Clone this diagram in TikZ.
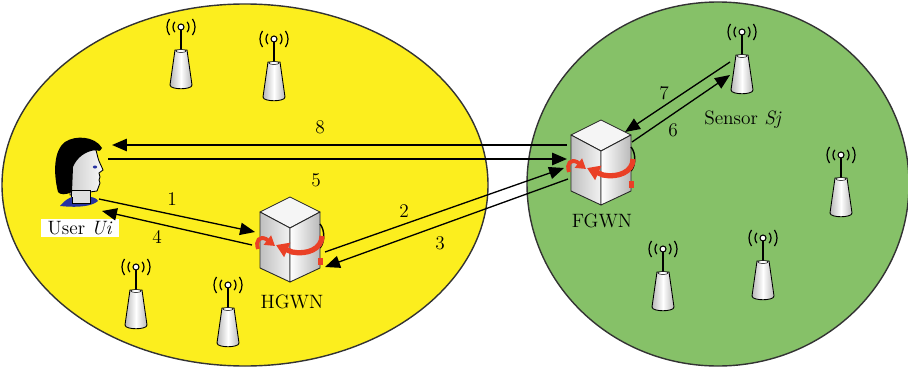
\documentclass[tikz,border=0pt]{standalone}
\usetikzlibrary{arrows.meta}
\definecolor{zoneyellow}{RGB}{252,238,30}
\definecolor{zonegreen}{RGB}{134,193,104}
\definecolor{ringred}{RGB}{234,64,38}
\definecolor{collarblue}{RGB}{38,50,160}
\tikzset{
  sensor/.pic={
    \draw[line width=1.1pt] (0,0) -- (0,23);
    \draw[line width=0.5pt, left color=gray!55, right color=gray!55, middle color=white]
      (-6,23) -- (6,23) -- (11,58) .. controls (11,63) and (-11,63) .. (-11,58) -- cycle;
    \draw[line width=0.3pt, fill=white] (0,24) ellipse [x radius=5, y radius=1.5];
    \draw[line width=0.6pt, fill=white] (0,0) circle (3);
    \draw[line width=0.7pt] (140:8) arc (140:220:8) (-40:8) arc (-40:40:8);
    \draw[line width=0.7pt] (145:14) arc (145:215:14) (-35:14) arc (-35:35:14);
  },
  server/.pic={
    \draw[edge, fill=gray!8] (0,-43) -- (30,-28) -- (0,-12) -- (-30,-28) -- cycle;
    \draw[edge, left color=gray!50, right color=gray!10] (-30,-28) -- (0,-12) -- (0,42) -- (-30,28) -- cycle;
    \draw[edge, left color=white, right color=gray!55] (0,-12) -- (30,-28) -- (30,28) -- (0,42) -- cycle;
    \draw[line width=0.8pt] (30,-16) .. controls (35,-10) and (35,2) .. (30,8);
    \draw[ringred, line width=3pt, -{Triangle[length=7pt,width=8.5pt]}]
      (32,-4) .. controls (32,9) and (17,15) .. (2,12) -- (-14,5);
    \draw[ringred, line width=2.2pt, -{Triangle[length=5.5pt,width=6.5pt]}]
      (-32,9) .. controls (-35,0) and (-30,-4) .. (-24,-1) -- (-15,6);
    \fill[ringred] (28,18) rectangle (33,25);
  },
}
\begin{document}
\begin{tikzpicture}[x=0.02cm, y=-0.02cm, font=\fontsize{11}{13}\selectfont,
  zone/.style={draw=black!80, line width=0.8pt},
  link/.style={line width=1.1pt, -{Triangle[length=8.5pt,width=7pt]}},
  msg/.style={line width=0.75pt, -{Triangle[length=8.5pt,width=7pt]}},
  edge/.style={draw=black!85, line width=0.5pt, line join=round}]
\useasboundingbox (0,0) rectangle (908,368);

% the two zones
\draw[zone, fill=zoneyellow] (245,185) ellipse [x radius=243, y radius=181];
\draw[zone, fill=zonegreen] (718,184) ellipse [x radius=191, y radius=182];

% sensors
\pic at (181,27) {sensor};
\pic at (274,39) {sensor};
\pic at (136,267) {sensor};
\pic at (228,285) {sensor};
\coordinate (sj) at (742,32);
\pic at (sj) {sensor};
\pic at (841,155) {sensor};
\pic at (663,249) {sensor};
\pic at (763,238) {sensor};
\node (sjlbl) at (743,120) {Sensor \textit{Sj}};

% gateways
\coordinate (hgwn) at (290,240);
\pic at (hgwn) {server};
\node (hgwnlbl) at (292,302) {HGWN};
\coordinate (fgwn) at (601,163);
\pic at (fgwn) {server};
\node (fgwnlbl) at (602,221) {FGWN};

% user
\coordinate (user) at (80,175);
\draw[line width=0.5pt, left color=gray!40, right color=gray!5]
  (70,195) -- (70,160) .. controls (75,152) and (88,148) .. (96,150) -- (98,158)
  .. controls (99,162) and (102,167) .. (103,170) -- (99,173) -- (100,177) -- (99,180)
  -- (100,183) .. controls (99,186) and (98,188) .. (97,191) -- (90,192) -- (90,195) -- cycle;
\draw[line width=0.5pt, fill=gray!25] (71,190) rectangle (90,203);
\fill[collarblue] (60,206) .. controls (65,200) and (69,198) .. (72,197) -- (72,203) -- (90,203)
  -- (90,197) .. controls (94,197) and (97,199) .. (98,201) .. controls (92,206) and (80,208) .. cycle;
\draw[line width=0.5pt] (72,197) -- (72,203) -- (90,203) -- (90,197);
\fill[black] (58,192) .. controls (53,172) and (54,150) .. (65,142) .. controls (75,135) and (95,136) .. (102,148)
  .. controls (100,152) and (98,151) .. (96,150) .. controls (86,151) and (77,157) .. (73,167)
  -- (72,192) .. controls (66,195) and (60,195) .. cycle;
\fill[collarblue] (95,167) ellipse [x radius=2.2, y radius=1.5];
\node[fill=white, inner xsep=4pt, inner ysep=1.5pt] (userlbl) at (80,228) {User \textit{Ui}};

% message endpoints
\coordinate (u8) at (112,145);
\coordinate (f8) at (567,145);
\coordinate (u5) at (108,159);
\coordinate (f5) at (567,159);
\coordinate (u1) at (99,199);
\coordinate (h1) at (255,232);
\coordinate (h4) at (252,245);
\coordinate (u4) at (102,211);
\coordinate (h2) at (325,252);
\coordinate (f2) at (564,168);
\coordinate (f3) at (568,179);
\coordinate (h3) at (325,267);
\coordinate (s7) at (730,62);
\coordinate (f7) at (625,132);
\coordinate (f6) at (632,142);
\coordinate (s6) at (730,75);

% messages
\draw[link] (f8) -- (u8);
\draw[link] (u5) -- (f5);
\draw[msg] (u1) -- (h1);
\draw[msg] (h4) -- (u4);
\draw[msg] (h2) -- (f2);
\draw[msg] (f3) -- (h3);
\draw[msg] (s7) -- (f7);
\draw[msg] (f6) -- (s6);

\node (n8) at (320,127) {8};
\node (n5) at (316,180) {5};
\node (n1) at (172,199) {1};
\node (n4) at (157,237) {4};
\node (n2) at (404,211) {2};
\node (n3) at (440,243) {3};
\node (n7) at (664,93) {7};
\node (n6) at (673,130) {6};
\end{tikzpicture}
\end{document}
